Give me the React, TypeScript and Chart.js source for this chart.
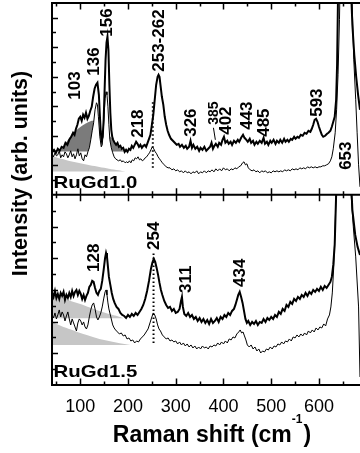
import React, { useEffect, useRef } from 'react';
import { Chart, registerables } from 'chart.js';

Chart.register(...registerables);

const FONT = "'Liberation Sans', Arial, Helvetica, sans-serif";

// ---- axes ----
const X_MIN = 40.8;
const X_MAX = 686;
const X_LABEL_TICKS = [100, 200, 300, 400, 500, 600];
const X_MARK_TICKS = [50, 100, 150, 200, 250, 300, 350, 400, 450, 500, 550, 600, 650];
const TOP_MAX = 191.7;
const BOT_MAX = 190;
const TOP_TICK_STEP = 14.75;
const BOT_TICK_STEP = 15.83;

// ---- spectra: [Raman shift (cm-1), intensity (arb. units)] ----
const TOP_THICK: number[][] = [
  [41,43],[45,45],[49,42],[53,46],[57,44],[61,48],[65,47],[69,52],[73,50],[77,55],[81,58],[85,62],[88,60],[91,66],[94,70],[97,76],
  [100,78],[103,74],[106,80],[109,77],[112,82],[115,76],[118,79],[121,84],[124,88],[127,98],[130,106],[133,110],[136,112],[139,100],
  [141,80],[143,62],[145,55],[147,58],[149,75],[151,105],[153,135],[155,152],[157,158],[159,145],[161,110],[163,82],[165,65],[167,58],
  [169,55],[172,52],[175,50],[178,52],[181,48],[184,49],[187,46],[190,47],[193,43],[196,45],[199,43],[202,46],[205,45],[208,49],
  [211,47],[214,50],[217,53],[220,51],[223,48],[226,50],[229,47],[232,49],[235,50],[238,48],[241,52],[244,56],[247,60],[250,70],
  [253,80],[256,95],[259,110],[262,118],[264,120],[266,118],[268,110],[271,98],[274,90],[277,78],[280,70],[283,64],[286,60],[290,56],
  [294,54],[298,52],[302,50],[306,51],[309,48],[313,50],[317,47],[321,49],[324,46],[328,48],[331,54],[334,47],[337,50],[341,46],
  [345,48],[349,44],[352,47],[356,45],[360,48],[364,44],[368,46],[372,48],[375,52],[378,46],[381,49],[384,51],[388,48],[391,52],
  [395,50],[398,55],[401,58],[404,52],[408,54],[411,51],[415,53],[418,50],[422,54],[426,52],[430,55],[433,53],[437,57],[441,60],
  [444,57],[448,55],[451,53],[455,56],[458,52],[462,54],[465,50],[469,53],[472,51],[476,54],[480,52],[484,57],[487,51],[491,53],
  [494,50],[498,54],[501,52],[505,55],[509,51],[512,54],[516,52],[519,55],[523,52],[527,56],[530,53],[534,55],[537,53],[541,56],
  [544,55],[548,58],[551,56],[555,58],[558,57],[562,60],[566,59],[570,62],[574,61],[578,64],[582,63],[585,66],[588,70],[591,75],
  [594,76],[597,73],[600,68],[603,64],[606,60],[609,58],[613,59],[617,61],[620,62],[624,64],[627,68],[630,73],[633,78],[636,95],
  [638,130],[640,200],[643,280],[646,340],[650,390],[654,400],[658,380],[662,300],[666,220],[670,170],[674,140],[678,118],[682,100],[686,85],
];

const TOP_THIN: number[][] = [
  [41,41],[44,38],[47,42],[50,39],[53,40],[56,44],[59,37],[62,40],[65,38],[68,43],[71,41],[74,37],[77,40],[80,44],[83,38],[86,41],
  [89,36],[92,40],[95,46],[98,39],[101,42],[104,36],[107,34],[110,40],[113,38],[116,43],[119,47],[122,55],[125,64],[128,72],[131,85],
  [134,92],[136,90],[138,78],[141,58],[144,48],[146,50],[148,62],[150,80],[152,96],[154,103],[156,100],[158,88],[160,70],[162,55],
  [165,47],[168,42],[171,38],[174,36],[177,35],[180,34],[184,35],[187,33],[190,34],[194,32],[197,33],[200,32],[203,34],[206,32],
  [209,35],[212,34],[215,37],[218,36],[221,38],[224,35],[227,36],[230,34],[233,35],[236,37],[239,38],[242,40],[245,42],[248,45],
  [251,48],[254,46],[257,43],[260,41],[263,38],[266,36],[269,34],[272,32],[276,30],[280,28],[284,27],[288,27],[292,25],[296,26],
  [300,24],[304,25],[308,23],[312,24],[316,22],[320,24],[324,22],[328,23],[332,21],[336,23],[340,22],[344,24],[348,21],[352,23],
  [356,22],[360,24],[364,22],[368,24],[372,23],[376,25],[380,23],[384,26],[388,24],[392,26],[396,24],[400,27],[404,25],[408,26],
  [412,24],[416,26],[420,25],[424,27],[428,26],[432,28],[436,29],[440,32],[443,33],[446,30],[449,31],[452,27],[456,25],[460,24],
  [464,25],[468,23],[472,24],[476,22],[480,24],[484,23],[488,24],[492,22],[496,23],[500,22],[504,24],[508,23],[512,24],[516,23],
  [520,24],[524,23],[528,25],[532,24],[536,25],[540,24],[544,26],[548,25],[552,26],[556,25],[560,27],[564,26],[568,27],[572,26],
  [576,28],[580,27],[584,28],[588,27],[592,28],[596,27],[600,28],[604,28],[608,29],[612,29],[616,30],[620,31],[624,34],[627,38],
  [630,46],[634,62],[637,85],[640,120],[643,175],[646,260],[650,380],[655,440],[660,400],[665,300],[669,200],[673,135],[677,95],
  [680,62],[683,30],[686,8],
];

const BOT_THICK: number[][] = [
  [41,92],[44,88],[47,94],[50,87],[53,91],[56,86],[59,92],[62,89],[65,93],[68,85],[71,90],[74,87],[77,92],[80,88],[83,94],[86,89],
  [89,93],[92,95],[95,90],[98,94],[101,91],[104,86],[107,90],[110,85],[113,89],[116,92],[119,98],[122,100],[125,104],[128,103],
  [131,97],[134,92],[137,90],[140,94],[143,96],[146,104],[149,115],[152,127],[154,132],[156,128],[158,118],[160,108],[163,100],
  [166,92],[169,86],[172,82],[176,78],[180,76],[184,72],[188,70],[192,69],[196,67],[200,70],[204,68],[208,71],[212,69],[216,72],
  [220,70],[224,73],[228,76],[232,80],[236,86],[240,94],[244,104],[248,116],[251,122],[254,126],[257,123],[260,117],[263,110],
  [266,102],[269,95],[272,90],[276,84],[280,80],[284,77],[288,78],[292,74],[296,76],[300,72],[304,73],[308,76],[311,84],[313,88],
  [315,78],[318,71],[322,69],[326,72],[330,68],[334,70],[338,66],[342,68],[346,64],[350,67],[354,63],[358,66],[362,62],[366,65],
  [370,61],[374,66],[378,62],[382,64],[386,67],[390,63],[394,68],[398,66],[402,70],[406,68],[410,72],[414,70],[418,74],[422,76],
  [425,80],[428,85],[431,90],[434,93],[437,88],[440,82],[443,74],[446,66],[449,62],[452,64],[456,60],[460,63],[464,61],[468,64],
  [472,60],[476,63],[480,62],[484,66],[488,63],[492,67],[496,65],[500,68],[504,66],[508,70],[512,68],[516,73],[520,71],[524,76],
  [528,74],[532,80],[536,78],[540,83],[544,81],[548,86],[552,84],[556,88],[560,86],[564,90],[568,88],[572,92],[576,89],[580,93],
  [584,91],[588,95],[592,93],[596,96],[600,94],[604,98],[608,95],[612,99],[616,97],[620,100],[624,103],[627,108],[630,120],
  [633,140],[636,190],[640,260],[646,350],[652,400],[658,340],[664,240],[670,175],[676,150],[681,138],[686,130],
];

const BOT_THIN: number[][] = [
  [41,70],[44,67],[47,72],[50,66],[53,70],[56,75],[59,68],[62,73],[65,70],[68,64],[71,69],[74,73],[77,66],[80,60],[83,66],[86,62],
  [89,58],[92,54],[95,62],[98,66],[101,64],[104,60],[107,63],[110,58],[113,56],[116,60],[119,68],[122,75],[125,80],[128,82],[131,76],
  [134,68],[137,65],[140,68],[143,72],[146,78],[149,86],[152,93],[154,95],[156,90],[158,82],[160,76],[162,72],[165,66],[168,60],
  [171,57],[174,55],[178,53],[182,51],[186,52],[190,49],[194,50],[198,46],[202,47],[206,44],[210,45],[214,42],[218,44],[222,43],
  [226,46],[230,48],[234,50],[238,53],[242,56],[246,62],[250,68],[253,72],[256,70],[259,66],[262,60],[265,56],[268,54],[272,50],
  [276,48],[280,46],[284,47],[288,44],[292,45],[296,43],[300,44],[304,41],[308,43],[312,40],[316,42],[320,39],[324,41],[328,38],
  [332,40],[336,37],[340,39],[344,36],[348,38],[352,36],[356,39],[360,37],[364,38],[368,36],[372,39],[376,38],[380,40],[384,39],
  [388,42],[392,40],[396,43],[400,41],[404,44],[408,42],[412,46],[416,45],[420,48],[424,47],[428,51],[432,53],[435,55],[438,52],
  [441,53],[444,49],[447,45],[450,40],[454,38],[458,40],[462,36],[466,38],[470,34],[474,36],[478,32],[482,34],[486,33],[490,36],
  [494,35],[498,38],[502,36],[506,39],[510,38],[514,41],[518,40],[522,43],[526,41],[530,44],[534,43],[538,46],[542,44],[546,48],
  [550,47],[554,50],[558,48],[562,51],[566,49],[570,52],[574,50],[578,54],[582,52],[586,55],[590,53],[594,57],[598,55],[602,58],
  [606,57],[610,61],[614,59],[618,66],[622,70],[625,78],[628,92],[631,118],[634,160],[637,210],[642,300],[648,380],[655,420],
  [661,330],[666,200],[672,158],[677,128],[683,78],[686,8],
];

// ---- shaded bands / backgrounds ----
const TOP_BAND: number[][] = [[58,43.3],[70,52],[86,62],[107,70],[128,74],[145,64],[163,58],[177,50],[191,43.3]];
const TOP_BAND_BASE = 43.3;
const TOP_BG: number[][] = [[41,38.5],[60,36],[80,33.5],[100,31.5],[120,29.5],[140,27.8],[160,26.2],[180,24.6],[195,23.3]];
const TOP_BG_BASE = 23.3;
const BOT_BG1: number[][] = [[41,93],[60,88],[80,84],[100,81],[120,77.5],[140,74],[160,71],[180,68.5],[190,66.7]];
const BOT_BG1_BASE = 66.7;
const BOT_BG2: number[][] = [[41,63],[60,59],[80,55.5],[100,52],[120,49],[140,46],[160,44],[180,42],[205,40]];
const BOT_BG2_BASE = 40;

// ---- annotations ----
const TOP_PEAK_TEXT = ['103', '136', '156', '218', '253-262', '326', '385', '402', '443', '485', '593', '653'];
const TOP_PEAK_X = [90.6, 130.3, 157.5, 222.4, 266.3, 333.3, 380.3, 405.4, 449.4, 486, 596.9, 657.5];
const TOP_PEAK_Y = [95, 119, 158, 57, 123, 58, 70, 60, 65, 58, 78, 25];
const BOT_PEAK_TEXT = ['128', '254', '311', '434'];
const BOT_PEAK_X = [129.3, 255.9, 321.8, 435.8];
const BOT_PEAK_Y = [113, 135, 92, 98];
const PANEL_LABELS = ['RuGd1.0', 'RuGd1.5'];
const Y_TITLE = 'Intensity (arb. units)';
const X_TITLE = 'Raman shift (cm';
const X_TITLE_SUP = '-1';
const TOP_DOTTED = { x: 252, from: 27, to: 95 };
const BOT_DOTTED = { x: 253.5, from: 42, to: 132 };

const pts = (a: number[][]) => a.map(([x, y]) => ({ x, y }));

const decor = {
  id: 'decor',
  afterDatasetsDraw(chart: any) {
    const ctx: CanvasRenderingContext2D = chart.ctx;
    const xs = chart.scales.x;
    const yt = chart.scales.yTop;
    const yb = chart.scales.yBot;
    const ca = chart.chartArea;
    ctx.save();
    ctx.strokeStyle = '#000';
    ctx.fillStyle = '#000';

    // dotted markers
    ctx.lineWidth = 2;
    ctx.setLineDash([1.5, 2.5]);
    ctx.beginPath();
    ctx.moveTo(xs.getPixelForValue(TOP_DOTTED.x), yt.getPixelForValue(TOP_DOTTED.from));
    ctx.lineTo(xs.getPixelForValue(TOP_DOTTED.x), yt.getPixelForValue(TOP_DOTTED.to));
    ctx.moveTo(xs.getPixelForValue(BOT_DOTTED.x), yb.getPixelForValue(BOT_DOTTED.from));
    ctx.lineTo(xs.getPixelForValue(BOT_DOTTED.x), yb.getPixelForValue(BOT_DOTTED.to));
    ctx.stroke();
    ctx.setLineDash([]);

    // frame
    ctx.lineWidth = 2;
    ctx.beginPath();
    ctx.moveTo(ca.left, ca.top - 1);
    ctx.lineTo(ca.left, ca.bottom + 1);
    for (const yy of [yt.top, yt.bottom, yb.bottom]) {
      ctx.moveTo(ca.left, yy);
      ctx.lineTo(ca.right, yy);
    }
    ctx.stroke();

    // inward x ticks
    ctx.lineWidth = 1.5;
    ctx.beginPath();
    for (const v of X_MARK_TICKS) {
      const px = Math.round(xs.getPixelForValue(v)) + 0.5;
      const len = v % 100 === 0 ? 6.5 : 3.5;
      for (const s of [yt, yb]) {
        ctx.moveTo(px, s.top);
        ctx.lineTo(px, s.top + len);
        ctx.moveTo(px, s.bottom);
        ctx.lineTo(px, s.bottom - len);
      }
    }
    // inward y ticks
    for (const [s, step, max] of [[yt, TOP_TICK_STEP, TOP_MAX], [yb, BOT_TICK_STEP, BOT_MAX]] as any[]) {
      for (let k = 1; k * step < max - 2; k++) {
        const py = Math.round(s.getPixelForValue(k * step)) + 0.5;
        const len = k % 2 === 0 ? 6 : 4;
        ctx.moveTo(ca.left, py);
        ctx.lineTo(ca.left + len, py);
      }
    }
    ctx.stroke();

    // peak labels (rotated)
    const vtext = (text: string, px: number, py: number, font: string) => {
      ctx.save();
      ctx.translate(px, py);
      ctx.rotate(-Math.PI / 2);
      ctx.font = font;
      ctx.textAlign = 'left';
      ctx.textBaseline = 'middle';
      ctx.fillText(text, 0, 0);
      ctx.restore();
    };
    TOP_PEAK_TEXT.forEach((t, i) => {
      const f = t === '385' ? `bold 14px ${FONT}` : `bold 17px ${FONT}`;
      vtext(t, xs.getPixelForValue(TOP_PEAK_X[i]), yt.getPixelForValue(TOP_PEAK_Y[i]), f);
    });
    BOT_PEAK_TEXT.forEach((t, i) => {
      vtext(t, xs.getPixelForValue(BOT_PEAK_X[i]), yb.getPixelForValue(BOT_PEAK_Y[i]), `bold 17px ${FONT}`);
    });
    // leader for 385
    ctx.lineWidth = 1;
    ctx.beginPath();
    ctx.moveTo(xs.getPixelForValue(379), yt.getPixelForValue(67));
    ctx.lineTo(xs.getPixelForValue(383), yt.getPixelForValue(55));
    ctx.stroke();

    // panel labels
    const panelY = [yt.bottom - 7, yb.bottom - 8];
    PANEL_LABELS.forEach((t, i) => {
      ctx.save();
      ctx.translate(ca.left + 1.5, panelY[i]);
      ctx.scale(1.2, 1);
      ctx.font = `bold 17px ${FONT}`;
      ctx.textAlign = 'left';
      ctx.textBaseline = 'alphabetic';
      ctx.fillText(t, 0, 0);
      ctx.restore();
    });

    // y title
    ctx.save();
    ctx.translate(26.5, (yt.top + yb.bottom) / 2 - 20.5);
    ctx.rotate(-Math.PI / 2);
    ctx.font = `bold 21.5px ${FONT}`;
    ctx.textAlign = 'center';
    ctx.textBaseline = 'alphabetic';
    ctx.fillText(Y_TITLE, 0, 0);
    ctx.restore();

    // x title with superscript
    ctx.save();
    const mainFont = `bold 23px ${FONT}`;
    const supFont = `bold 12px ${FONT}`;
    ctx.font = mainFont;
    const w1 = ctx.measureText(X_TITLE).width;
    const w3 = ctx.measureText(')').width;
    ctx.font = supFont;
    const w2 = ctx.measureText(X_TITLE_SUP).width;
    const total = w1 + w2 + w3 + 1;
    const cx = (ca.left + ca.right) / 2 + 6;
    let x0 = cx - total / 2;
    const base = ca.bottom + 56.5;
    ctx.textAlign = 'left';
    ctx.textBaseline = 'alphabetic';
    ctx.font = mainFont;
    ctx.fillText(X_TITLE, x0, base);
    x0 += w1;
    ctx.font = supFont;
    ctx.fillText(X_TITLE_SUP, x0, base - 19);
    x0 += w2 + 1;
    ctx.font = mainFont;
    ctx.fillText(')', x0, base);
    ctx.restore();

    ctx.restore();
  },
};

export default function App() {
  const ref = useRef<HTMLCanvasElement | null>(null);

  useEffect(() => {
    document.body.style.margin = '0';
    const canvas = ref.current;
    if (!canvas) return;
    const line = (data: number[][], axis: string, width: number, order: number, extra: any = {}) => ({
      data: pts(data),
      yAxisID: axis,
      borderColor: '#000',
      borderWidth: width,
      pointRadius: 0,
      tension: 0,
      fill: false,
      order,
      ...extra,
    });
    const area = (data: number[][], axis: string, base: number, color: string, order: number) => ({
      data: pts(data),
      yAxisID: axis,
      borderColor: 'rgba(0,0,0,0)',
      borderWidth: 0,
      backgroundColor: color,
      pointRadius: 0,
      tension: 0.3,
      fill: { value: base },
      order,
    });

    const chart = new Chart(canvas, {
      type: 'line',
      data: {
        datasets: [
          line(TOP_THICK, 'yTop', 2, 0),
          line(TOP_THIN, 'yTop', 1, 20, { fill: 'origin', backgroundColor: '#ffffff' }),
          area(TOP_BAND, 'yTop', TOP_BAND_BASE, '#7b7b7b', 30),
          area(TOP_BG, 'yTop', TOP_BG_BASE, '#c6c6c6', 10),
          line(BOT_THICK, 'yBot', 2, 0),
          line(BOT_THIN, 'yBot', 1, 1),
          area(BOT_BG1, 'yBot', BOT_BG1_BASE, '#c6c6c6', 10),
          area(BOT_BG2, 'yBot', BOT_BG2_BASE, '#c6c6c6', 10),
        ] as any,
      },
      options: {
        responsive: false,
        animation: false,
        events: [],
        layout: { padding: { left: 52, top: 3, right: 0, bottom: 0 } },
        plugins: {
          legend: { display: false },
          tooltip: { enabled: false },
          filler: { drawTime: 'beforeDatasetsDraw' },
        } as any,
        scales: {
          x: {
            type: 'linear',
            position: 'bottom',
            min: X_MIN,
            max: X_MAX,
            grid: { display: false, drawTicks: false },
            border: { display: false },
            ticks: {
              color: '#000',
              font: { family: FONT, size: 18 },
              padding: 11,
              maxRotation: 0,
              autoSkip: false,
            },
            afterBuildTicks: (s: any) => {
              s.ticks = X_LABEL_TICKS.map((v) => ({ value: v }));
            },
            afterFit: (s: any) => {
              s.height = 68;
            },
          },
          yTop: {
            type: 'linear',
            position: 'left',
            stack: 'panels',
            stackWeight: TOP_MAX,
            weight: 1,
            min: 0,
            max: TOP_MAX,
            grid: { display: false, drawTicks: false },
            border: { display: false },
            ticks: { display: false },
            afterFit: (s: any) => {
              s.width = 0;
            },
          },
          yBot: {
            type: 'linear',
            position: 'left',
            stack: 'panels',
            stackWeight: BOT_MAX,
            weight: 0,
            min: 0,
            max: BOT_MAX,
            grid: { display: false, drawTicks: false },
            border: { display: false },
            ticks: { display: false },
            afterFit: (s: any) => {
              s.width = 0;
            },
          },
        } as any,
      },
      plugins: [decor],
    });
    return () => chart.destroy();
  }, []);

  return (
    <div style={{ width: 360, height: 453, background: '#fff' }}>
      <canvas ref={ref} width={360} height={453} style={{ display: 'block' }} />
    </div>
  );
}
